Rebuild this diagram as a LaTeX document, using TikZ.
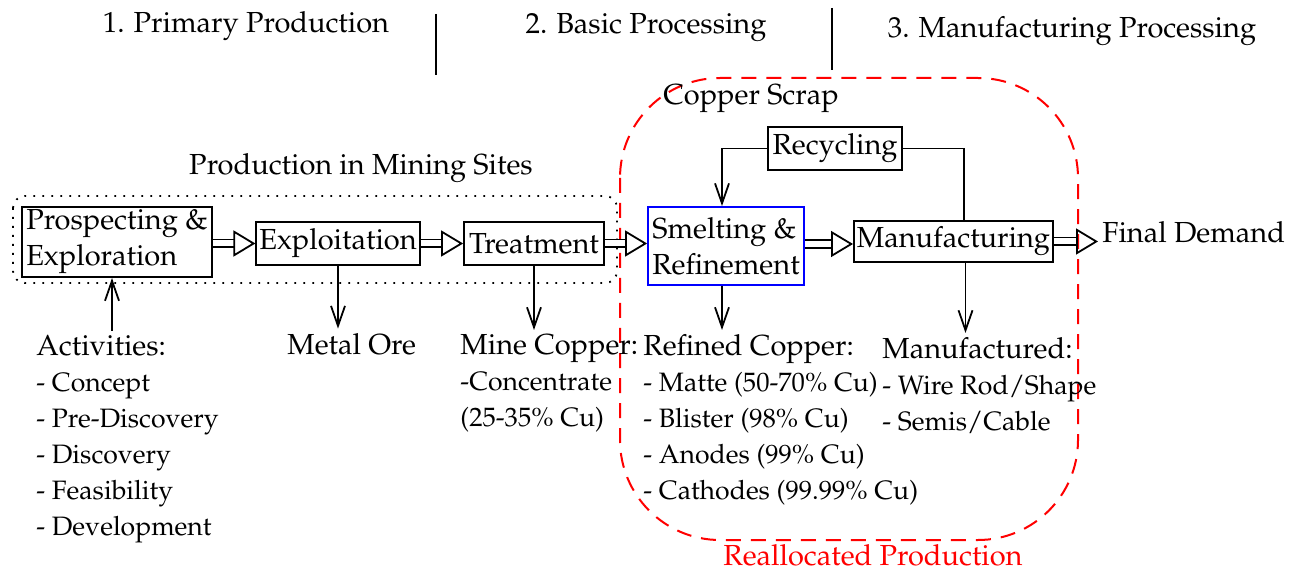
\documentclass[tikz,border=0pt]{standalone}
\usepackage[T1]{fontenc}
\usepackage{mathpazo}
\usetikzlibrary{positioning,arrows.meta}
\newcommand{\listfont}{\fontsize{13.3}{18}\selectfont}
\tikzset{
  every node/.style={
    font=\fontsize{14.5}{18}\selectfont,
    inner sep=2pt,
  },
  stage box/.style={
    draw,
    line width=0.9pt,
    inner sep=1.5pt,
    align=left,
    minimum width={#1pt},
    minimum height={21.5pt},
  },
  note/.style={
    align=left,
    anchor=north west,
  },
  flow/.style={
    line width=0.9pt,
    -{Straight Barb[length=10pt,width=7pt]},
  },
  bulk flow/.style={
    double,
    double distance=3pt,
    line width=0.9pt,
    -{Triangle[open,length=11pt,width=13pt]},
  },
  site group/.style={
    line width=0.9pt,
    dash pattern=on 0.9pt off 3.6pt,
    rounded corners=6pt,
  },
  realloc group/.style={
    red,
    line width=1pt,
    dash pattern=on 7.5pt off 5pt,
    rounded corners=50pt,
  }
}

\begin{document}
\begin{tikzpicture}[x=0.5pt,y=-0.5pt]
        \useasboundingbox (0,0) rectangle (1294,571);

        % stages on top
        \node [anchor=base] (stage1) at (246,33) {1. Primary Production};
        \node [anchor=base] (stage2) at (646,34) {2. Basic Processing};
        \node [anchor=base] (stage3) at (1072,38) {3. Manufacturing Processing};
        \draw [line width=0.9pt] (436,14) -- (436,75);
        \draw [line width=0.9pt] (832,8) -- (832,70);

        % groups
        \draw [site group] (13,196) rectangle (617,283);
        \node [anchor=base] (sites) at (361,175) {Production in Mining Sites};
        \draw [realloc group] (620,78) rectangle (1078,540);
        \node [anchor=base, red] (realloc) at (873,565) {Reallocated Production};
        \node [anchor=base west] (scrap) at (659,105) {Copper Scrap};

        % chain
        \node [stage box=95, minimum height=35pt] (prosp) at (117,242) {Prospecting \&\\Exploration};
        \node [stage box=79] (exploit) at (338,243.5) {Exploitation};
        \node [stage box=70] (treat) at (534,243.5) {Treatment};
        \node [stage box=78, minimum height=39pt, draw=blue] (smelt) at (726,246) {Smelting \&\\Refinement};
        \node [stage box=98.5, minimum height=20.5pt] (manuf) at (953.5,241.5) {Manufacturing};
        \node [stage box=67] (recyc) at (835,148.5) {Recycling};
        \node [anchor=base west] (demand) at (1098,243) {Final Demand};

        \draw [bulk flow] (prosp.east |- exploit.west) -- (exploit.west);
        \draw [bulk flow] (exploit.east) -- (treat.west);
        \draw [bulk flow] (treat.east) -- (treat.east -| smelt.west);
        \draw [bulk flow] (smelt.east |- 0,244) -- (manuf.west |- 0,244);
        \draw [bulk flow] (manuf.east) -- (manuf.east -| demand.west);

        % recycling loop
        \draw [flow] (recyc.west) -| ([xshift=-2pt]smelt.north);
        \draw [line width=0.9pt] ([xshift=5.25pt]manuf.north) |- (recyc.east);

        % outputs
        \node [note] (activ) at (32,331) {Activities:\\\listfont- Concept\\\listfont- Pre-Discovery\\\listfont- Discovery\\\listfont- Feasibility\\\listfont- Development};
        \node [anchor=base west] (ore) at (283,354) {Metal Ore};
        \node [note] (mine) at (456,330) {Mine Copper:\\\listfont-Concentrate\\\listfont(25-35\% Cu)};
        \node [note] (refined) at (639,330) {Refined Copper:\\\listfont- Matte (50-70\% Cu)\\\listfont- Blister (98\% Cu)\\\listfont- Anodes (99\% Cu)\\\listfont- Cathodes (99.99\% Cu)};
        \node [note] (made) at (878,333) {Manufactured:\\\listfont- Wire Rod/Shape\\\listfont- Semis/Cable};

        \draw [flow] ([xshift=-2.5pt]prosp.south |- activ.north) -- ([xshift=-2.5pt]prosp.south);
        \draw [flow] (exploit.south) -- (exploit.south |- ore.north);
        \draw [flow] (treat.south) -- (treat.south |- mine.north);
        \draw [flow] ([xshift=-2pt]smelt.south) -- ([xshift=-2pt]smelt.south |- refined.north);
        \draw [flow] ([xshift=6pt]manuf.south) -- ([xshift=6pt]manuf.south |- made.north);
      \end{tikzpicture}
\end{document}
